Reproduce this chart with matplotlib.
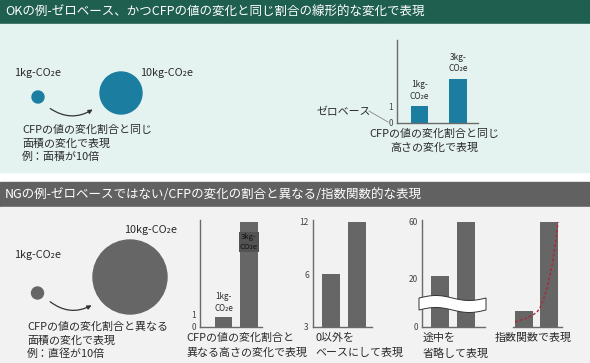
import numpy as np
import matplotlib
matplotlib.use("Agg")
import matplotlib.pyplot as plt
from matplotlib.patches import Rectangle, Circle, FancyArrowPatch, Polygon

plt.rcParams['font.family'] = ['Noto Sans CJK JP', 'DejaVu Sans']

# ---- data ----
ok_bar_labels = ['1kg-\nCO₂e', '3kg-\nCO₂e']
ok_bar_values = [1, 2.6]
ok_ticks = [0, 1]

ng1_bar_labels = ['1kg-\nCO₂e', '3kg-\nCO₂e']
ng1_bar_values = [0.85, 8.75]
ng1_ticks = [0, 1]

ng2_bar_values = [6, 12]
ng2_ticks = [3, 6, 12]

ng3_bar_values = [22, 60]
ng3_ticks = [0, 20, 60]

ng4_bar_values = [9, 60]
# dashed exponential guide
ng4_curve_x = [-0.36, 0.0, 0.16, 0.36, 0.52, 0.64, 0.80, 0.92, 1.04, 1.16, 1.28, 1.36]
ng4_curve_y = [2.9, 4.6, 5.4, 6.9, 8.6, 10.9, 16.6, 22.3, 29.7, 38.3, 49.7, 60.0]

W, H = 590, 363
TEAL = '#1b7ea1'
GRAY = '#666666'
TXT = '#2b2b2b'
AX = '#6a6a6a'
CAP = 7.9  # caption font size

fig = plt.figure(figsize=(W / 100, H / 100), dpi=100)

# background / decoration layer in pixel coordinates
bg = fig.add_axes([0, 0, 1, 1])
bg.set_xlim(0, W)
bg.set_ylim(H, 0)
bg.axis('off')

bg.add_patch(Rectangle((0, 0), W, 24, color='#1f5f50'))
bg.add_patch(Rectangle((0, 24), W, 148, color='#e4f3f0'))
bg.add_patch(Rectangle((0, 182), W, 25, color='#616161'))
bg.add_patch(Rectangle((0, 207), W, 156, color='#f2f2f2'))

bg.text(5, 12, 'OKの例-ゼロベース、かつCFPの値の変化と同じ割合の線形的な変化で表現',
        color='white', fontsize=9.0, va='center', ha='left')
bg.text(5, 195, 'NGの例-ゼロベースではない/CFPの変化の割合と異なる/指数関数的な表現',
        color='white', fontsize=9.0, va='center', ha='left')

# ---- OK: circles ----
bg.add_patch(Circle((38, 97), 6, color=TEAL))
bg.add_patch(Circle((121, 93), 21, color=TEAL))
bg.text(14, 73, '1kg-CO₂e', fontsize=7.8, color=TXT, va='center')
bg.text(140, 73, '10kg-CO₂e', fontsize=7.8, color=TXT, va='center')
bg.add_patch(FancyArrowPatch((48, 107), (95, 108), connectionstyle='arc3,rad=0.35',
                             arrowstyle='-|>', mutation_scale=6, color='#333333', lw=0.9))
for i, line in enumerate(['CFPの値の変化割合と同じ', '面積の変化で表現', '例：面積が10倍']):
    bg.text(22, 130 + i * 13.5, line, fontsize=CAP, color=TXT, va='center')

# ---- NG: circles ----
bg.add_patch(Circle((37.5, 293), 6, color=GRAY))
bg.add_patch(Circle((130, 277), 37, color=GRAY))
bg.text(14, 255, '1kg-CO₂e', fontsize=7.8, color=TXT, va='center')
bg.text(124, 230, '10kg-CO₂e', fontsize=7.8, color=TXT, va='center')
bg.add_patch(FancyArrowPatch((48, 300), (94, 304), connectionstyle='arc3,rad=0.35',
                             arrowstyle='-|>', mutation_scale=6, color='#333333', lw=0.9))
for i, line in enumerate(['CFPの値の変化割合と異なる', '面積の変化で表現', '例：直径が10倍']):
    bg.text(27, 327 + i * 13.5, line, fontsize=CAP, color=TXT, va='center')


def px_axes(x0, y0, x1, y1):
    ax = fig.add_axes([x0 / W, 1 - y1 / H, (x1 - x0) / W, (y1 - y0) / H])
    ax.patch.set_alpha(0)
    for s in ['top', 'right']:
        ax.spines[s].set_visible(False)
    for s in ['left', 'bottom']:
        ax.spines[s].set_color(AX)
        ax.spines[s].set_linewidth(1)
    ax.tick_params(length=0, labelsize=6, colors='#444444', pad=3)
    ax.set_xticks([])
    return ax


# ---- OK: bar chart ----
ax0 = px_axes(397, 40, 478, 123)
ax0.bar([0, 1], ok_bar_values, width=0.45, color=TEAL)
ax0.set_xlim(-0.584, 1.52)
ax0.set_ylim(0, 4.9)
ax0.set_yticks(ok_ticks)
for i, (lab, v) in enumerate(zip(ok_bar_labels, ok_bar_values)):
    ax0.annotate(lab, (i, v), xytext=(0, 4), textcoords='offset points',
                 ha='center', va='bottom', fontsize=6, color=TXT, linespacing=1.4)
bg.text(317, 112, 'ゼロベース', fontsize=7.8, color=TXT, va='center')
bg.plot([369, 388], [111, 122], color='#888888', lw=0.6)
bg.text(434, 134, 'CFPの値の変化割合と同じ', fontsize=CAP, color=TXT, va='center', ha='center')
bg.text(434, 148, '高さの変化で表現', fontsize=CAP, color=TXT, va='center', ha='center')

# ---- NG 1: not proportional ----
ax1 = px_axes(200, 220, 262, 327)
ax1.bar([0, 1], ng1_bar_values, width=0.69, color=GRAY)
ax1.set_xlim(-0.92, 1.51)
ax1.set_ylim(0, 8.9)
ax1.set_yticks(ng1_ticks)
ax1.annotate(ng1_bar_labels[0], (0, ng1_bar_values[0]), xytext=(0, 3), textcoords='offset points',
             ha='center', va='bottom', fontsize=5.8, color=TXT, linespacing=1.4)
ax1.annotate(ng1_bar_labels[1], (1, ng1_bar_values[1]), xytext=(0, -8), textcoords='offset points',
             ha='center', va='top', fontsize=5.6, color='#111111', linespacing=1.4,
             bbox=dict(boxstyle='square,pad=0.08', fc='#535353', ec='none'))
bg.text(186, 338, 'CFPの値の変化割合と', fontsize=CAP, color=TXT, va='center')
bg.text(186, 353, '異なる高さの変化で表現', fontsize=CAP, color=TXT, va='center')

# ---- NG 2: non-zero base ----
ax2 = px_axes(313, 220, 372, 327)
ax2.bar([0, 1], ng2_bar_values, width=0.68, color=GRAY)
ax2.set_yscale('log')
ax2.set_xlim(-0.68, 1.55)
ax2.set_ylim(3, 12.3)
ax2.set_yticks(ng2_ticks)
ax2.set_yticklabels([str(t) for t in ng2_ticks])
ax2.yaxis.set_minor_locator(plt.NullLocator())
bg.text(315, 338, '0以外を', fontsize=CAP, color=TXT, va='center')
bg.text(315, 353, 'ベースにして表現', fontsize=CAP, color=TXT, va='center')


# ---- NG 3: broken axis ----
def fwd(v):
    v = np.asarray(v, dtype=float)
    return np.where(v <= 20, v * 2.4, 48 + (v - 20) * 1.425)


def inv(u):
    u = np.asarray(u, dtype=float)
    return np.where(u <= 48, u / 2.4, 20 + (u - 48) / 1.425)


ax3 = px_axes(422, 220, 485, 327)
ax3.set_yscale('function', functions=(fwd, inv))
ax3.bar([0, 1], ng3_bar_values, width=0.7, color=GRAY)
ax3.set_xlim(-0.71, 1.76)
ax3.set_ylim(0, 61.4)
ax3.set_yticks(ng3_ticks)
ax3.set_yticklabels([str(t) for t in ng3_ticks])
ax3.yaxis.set_minor_locator(plt.NullLocator())
# wavy white band marking the omitted range
xs = np.linspace(419, 486, 40)
top = 298 - 2.5 * np.sin((xs - 419) / 67 * 2 * np.pi)
band = np.concatenate([np.column_stack([xs, top]), np.column_stack([xs[::-1], top[::-1] + 12])])
ax3.add_patch(Polygon(band, closed=True, fc='white', ec='#333333', lw=0.7,
                      transform=bg.transData, clip_on=False, zorder=5))
bg.text(423, 338, '途中を', fontsize=CAP, color=TXT, va='center')
bg.text(423, 353, '省略して表現', fontsize=CAP, color=TXT, va='center')

# ---- NG 4: exponential ----
ax4 = px_axes(513, 220, 562, 327)
ax4.spines['left'].set_visible(False)
ax4.set_yticks([])
ax4.bar([0, 1], ng4_bar_values, width=0.72, color=GRAY)
ax4.set_xlim(-0.44, 1.52)
ax4.set_ylim(0, 61.1)
ax4.plot(ng4_curve_x, ng4_curve_y, color='#b0243a', lw=1, ls=(0, (2, 1.5)))
bg.text(495, 338, '指数関数で表現', fontsize=CAP, color=TXT, va='center')

fig.savefig('out.png', dpi=100)
